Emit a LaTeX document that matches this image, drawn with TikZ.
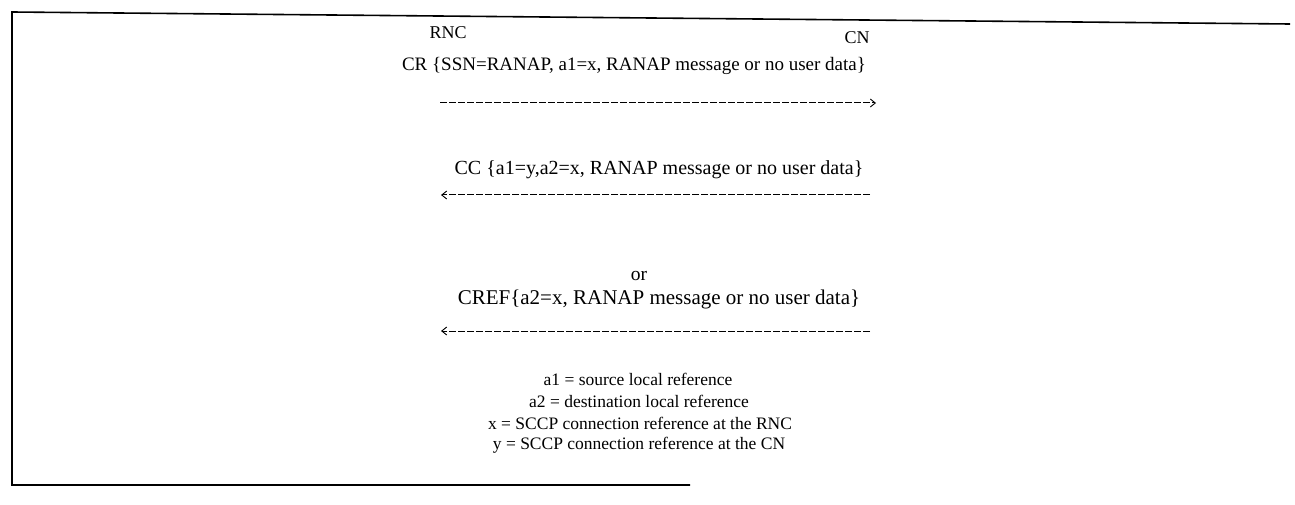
\documentclass[tikz,border=0pt]{standalone}
\usepackage{fontspec}
\setmainfont{Liberation Serif}
\usetikzlibrary{arrows.meta}
\tikzset{
  lbl/.style={inner sep=0pt, font=\fontsize{19.5}{22}\selectfont},
  lblw/.style={inner sep=0pt, font=\fontsize{20.5}{23}\selectfont},
  ent/.style={inner sep=0pt, font=\fontsize{18}{21}\selectfont},
  leg/.style={inner sep=0pt, font=\fontsize{17.5}{20}\selectfont},
  msg/.style={line width=1pt, dash pattern=on 7pt off 2pt},
  tip/.style={-{Straight Barb[length=5pt,width=8pt,line width=0.9pt]}},
  frame/.style={line width=1.6pt}
}
\begin{document}
\begin{tikzpicture}[x=1pt,y=-1pt]
\useasboundingbox (0,0) rectangle (1295,505);
% frame (open on the right)
\draw[frame] (1290,24) -- (12,12) -- (12,485) -- (690,485);
% entities
\node[ent] (rnc) at (448,33) {RNC};
\node[ent] (cn) at (857,38) {CN};
% messages
\node[lbl, font=\fontsize{19}{22}\selectfont] (cr) at (634,66) {CR \{SSN=RANAP, a1=x, RANAP message or no user data\}};
\coordinate (cr1) at (440,103);
\coordinate (cr2) at (876,103);
\draw[msg,tip] (cr1) -- (cr2);
\node[lblw, font=\fontsize{20}{23}\selectfont] (cc) at (659,170) {CC \{a1=y,a2=x, RANAP message or no user data\}};
\coordinate (cc1) at (870,195);
\coordinate (cc2) at (441,195);
\draw[msg,tip] (cc1) -- (cc2);
\node[lbl] (or) at (639,276) {or};
\node[lblw, font=\fontsize{21}{24}\selectfont] (cref) at (659,299) {CREF\{a2=x, RANAP message or no user data\}};
\coordinate (cf1) at (870,331);
\coordinate (cf2) at (441,331);
\draw[msg,tip] (cf1) -- (cf2);
% legend
\node[leg] (l1) at (638,379) {a1 = source local reference};
\node[leg] (l2) at (639,401) {a2 = destination local reference};
\node[leg] (l3) at (640,423) {x = SCCP connection reference at the RNC};
\node[leg] (l4) at (639,445) {y = SCCP connection reference at the CN};
\end{tikzpicture}
\end{document}
